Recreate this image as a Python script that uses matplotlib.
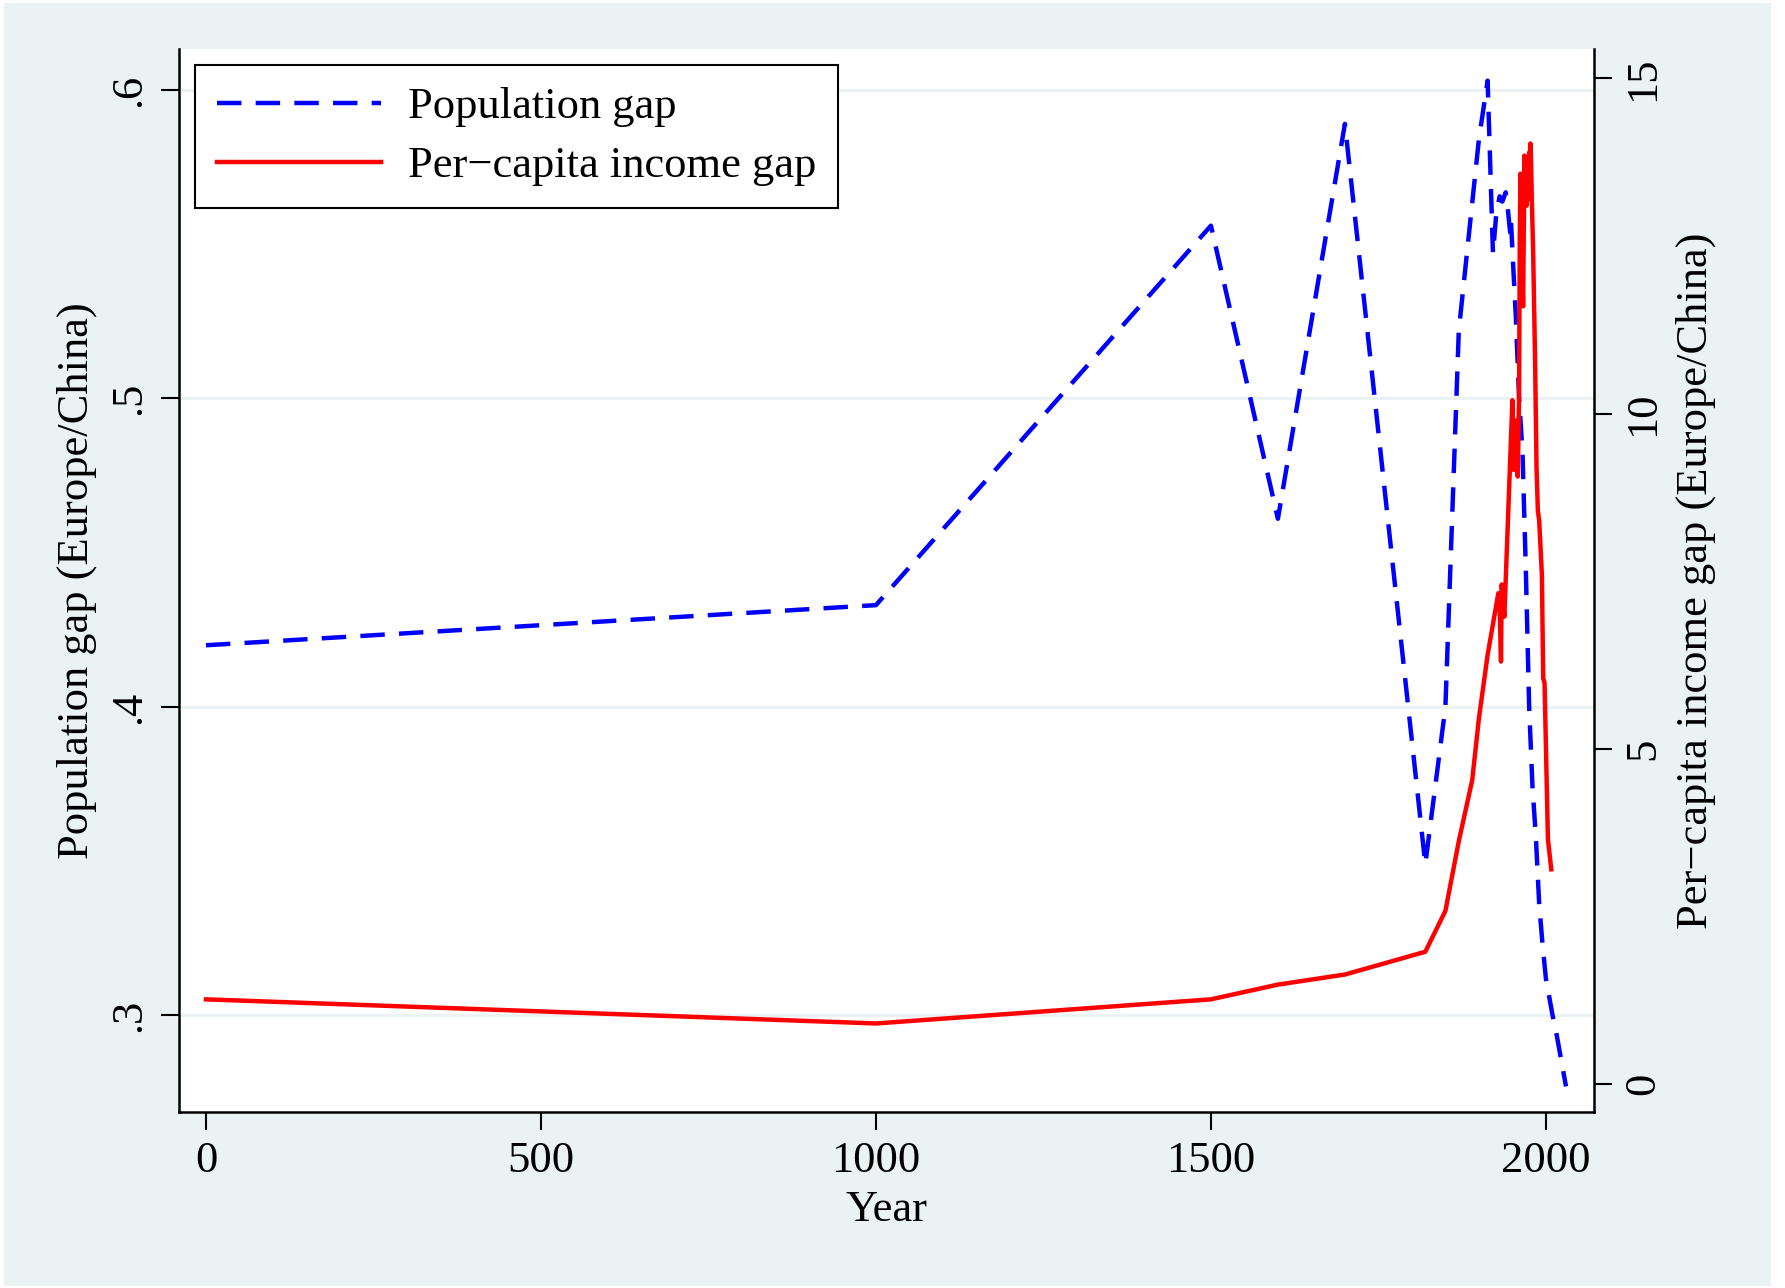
import matplotlib.pyplot as plt
from matplotlib.patches import Rectangle

plt.rcParams['font.family'] = ['Liberation Serif', 'DejaVu Serif']

# Population gap (Europe/China), left axis
pop_years = [0, 1000, 1500, 1600, 1700, 1820, 1850, 1870, 1900, 1913,
             1921, 1926, 1931, 1935, 1940, 1943, 1947, 1948, 1950, 1955,
             1960, 1965, 1970, 1975, 1980, 1985, 1990, 1995, 2000, 2005,
             2010, 2015, 2020, 2025, 2030]
pop_gap = [0.420, 0.433, 0.556, 0.461, 0.589, 0.349, 0.400, 0.522, 0.584, 0.603,
           0.547, 0.560, 0.5655, 0.5638, 0.5668, 0.5617, 0.553, 0.557, 0.548, 0.527,
           0.500, 0.483, 0.445, 0.400, 0.374, 0.358, 0.336, 0.323, 0.312, 0.306,
           0.300, 0.295, 0.289, 0.283, 0.277]

# Per-capita income gap (Europe/China), right axis
inc_years = [0, 1000, 1500, 1600, 1700, 1820, 1850, 1870, 1890, 1900,
             1913, 1929, 1931, 1933, 1934, 1936, 1938, 1950, 1952, 1954,
             1956, 1958, 1960, 1961, 1962, 1964, 1966, 1968, 1969, 1970,
             1971, 1972, 1973, 1974, 1975, 1976, 1977, 1978, 1979, 1981,
             1984, 1986, 1988, 1990, 1991, 1994, 1996, 1998, 2003, 2008]
inc_gap = [1.26, 0.90, 1.26, 1.48, 1.63, 1.97, 2.58, 3.62, 4.53, 5.45,
           6.40, 7.32, 7.10, 6.30, 7.45, 7.20, 6.97, 10.2, 9.16, 9.50,
           9.90, 9.06, 10.3, 12.6, 13.58, 12.5, 11.6, 13.85, 13.5, 13.4,
           13.1, 13.6, 13.8, 13.5, 13.9, 13.2, 14.03, 13.7, 13.2, 12.4,
           10.7, 9.2, 8.55, 8.4, 8.2, 7.6, 6.05, 5.98, 3.65, 3.2]

left_ticks = [0.3, 0.4, 0.5, 0.6]
left_labels = ['.3', '.4', '.5', '.6']
right_ticks = [0, 5, 10, 15]
x_ticks = [0, 500, 1000, 1500, 2000]

W, H = 1785, 1288
fig = plt.figure(figsize=(W / 100, H / 100), dpi=100)
fig.patch.set_facecolor('white')
fig.add_artist(Rectangle((4 / W, 2 / H), (1771 - 4) / W, (1285 - 2) / H,
                         transform=fig.transFigure, facecolor='#EAF2F3',
                         edgecolor='none', zorder=-5))

ax = fig.add_axes([178.7 / W, (H - 1112.2) / H, (1593.8 - 178.7) / W, (1112.2 - 49) / H])
ax.set_facecolor('white')
ax2 = ax.twinx()

l1, = ax.plot(pop_years, pop_gap, color='#0000FF', lw=3.2, dashes=(5.5, 3.2),
              label='Population gap')
l2, = ax2.plot(inc_years, inc_gap, color='#FF0000', lw=3.2,
               label='Per\u2212capita income gap')

ax.set_xlim(-40.7, 2071.5)
ax.set_ylim(0.26865, 0.61326)
ax2.set_ylim(-0.424, 15.44)

ax.set_xticks(x_ticks)
ax.set_yticks(left_ticks)
ax.set_yticklabels(left_labels)
ax2.set_yticks(right_ticks)

ax.set_axisbelow(True)
ax.yaxis.grid(True, color='#EAF2F3', lw=2.3)

for a in (ax, ax2):
    a.spines['top'].set_visible(False)
    for s in a.spines.values():
        s.set_linewidth(1.8)
ax.spines['right'].set_visible(False)
ax2.spines['left'].set_visible(False)
ax2.spines['bottom'].set_visible(False)

fs = 32
ax.tick_params(axis='x', direction='out', length=13, width=1.5, labelsize=fs, pad=8)
ax.tick_params(axis='y', direction='out', length=13, width=1.5, labelsize=fs, pad=8,
               labelrotation=90)
ax2.tick_params(axis='y', direction='out', length=13, width=1.5, labelsize=fs, pad=8,
                labelrotation=90)
for t in ax.get_yticklabels() + ax2.get_yticklabels():
    t.set_va('center')

ax.set_xlabel('Year', fontsize=fs, labelpad=6)
ax.set_ylabel('Population gap (Europe/China)', fontsize=fs, labelpad=9)
ax2.set_ylabel('Per\u2212capita income gap (Europe/China)', fontsize=fs, labelpad=9)

leg = ax2.legend(handles=[l1, l2], loc='upper left', bbox_to_anchor=(0.0113, 0.985),
                 borderaxespad=0, fontsize=fs, frameon=True, fancybox=False,
                 edgecolor='black', framealpha=1, handlelength=3.7,
                 handletextpad=0.6, labelspacing=0.42, borderpad=0.5)
leg.get_frame().set_linewidth(1.5)

fig.savefig('out.png', dpi=100, facecolor=fig.get_facecolor())
